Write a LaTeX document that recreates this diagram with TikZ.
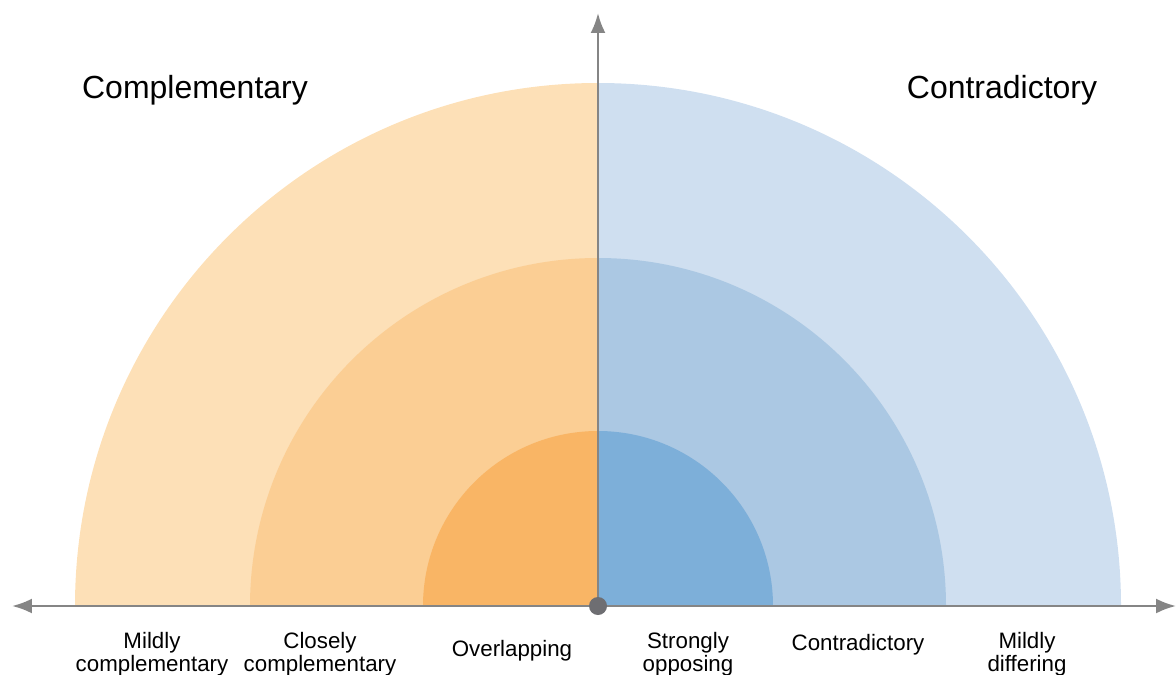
\documentclass[tikz,border=0pt]{standalone}
\usepackage{fontspec}
\setmainfont{Liberation Sans}
\usetikzlibrary{arrows.meta}
\definecolor{peachA}{HTML}{FDE0B7}
\definecolor{peachB}{HTML}{FBCE94}
\definecolor{peachC}{HTML}{F9B565}
\definecolor{skyA}{HTML}{CFDFF0}
\definecolor{skyB}{HTML}{ABC8E3}
\definecolor{skyC}{HTML}{7DAFD9}
\definecolor{axisgray}{HTML}{858585}
\definecolor{dotgray}{HTML}{6E6E72}

\begin{document}
\begin{tikzpicture}[x=0.02cm,y=0.02cm,
  axisline/.style={draw=axisgray,line width=1.4pt,-{Latex[length=0.4cm,width=0.3cm]}},
  title/.style={font=\fontsize{18.2}{20}\selectfont,anchor=base},
  band/.style={font=\fontsize{12.7}{10.8}\selectfont,align=center,anchor=north,inner sep=0pt}]
\useasboundingbox (0,0) rectangle (1176,674);
% quarter discs, outer to inner
\coordinate (O) at (598,68);
\foreach \r/\cl/\cr in {523/peachA/skyA,348/peachB/skyB,175/peachC/skyC}{
  \fill[\cl] (O) -- ++(180:\r) arc[start angle=180,end angle=90,radius=\r] -- cycle;
  \fill[\cr] (O) -- ++(90:\r) arc[start angle=90,end angle=0,radius=\r] -- cycle;
}
% axes
\coordinate (xl) at (12,68);
\coordinate (xr) at (1176,68);
\coordinate (yt) at (598,661);
\draw[axisline] (O) -- (xl);
\draw[axisline] (O) -- (xr);
\draw[axisline] (O) -- (yt);
\fill[dotgray] (O) circle[radius=9];
% side titles
\node[title] (compl) at (195,576) {Complementary};
\node[title] (contr) at (1002,576) {Contradictory};
% band labels
\node[band] (mcomp) at (152,42) {Mildly\\complementary};
\node[band] (ccomp) at (320,42) {Closely\\complementary};
\node[band] (overl) at (512,34) {Overlapping};
\node[band] (sopp)  at (688,42) {Strongly\\opposing};
\node[band] (ctry)  at (858,40) {Contradictory};
\node[band] (mdiff) at (1027,42) {Mildly\\differing};
\end{tikzpicture}
\end{document}
